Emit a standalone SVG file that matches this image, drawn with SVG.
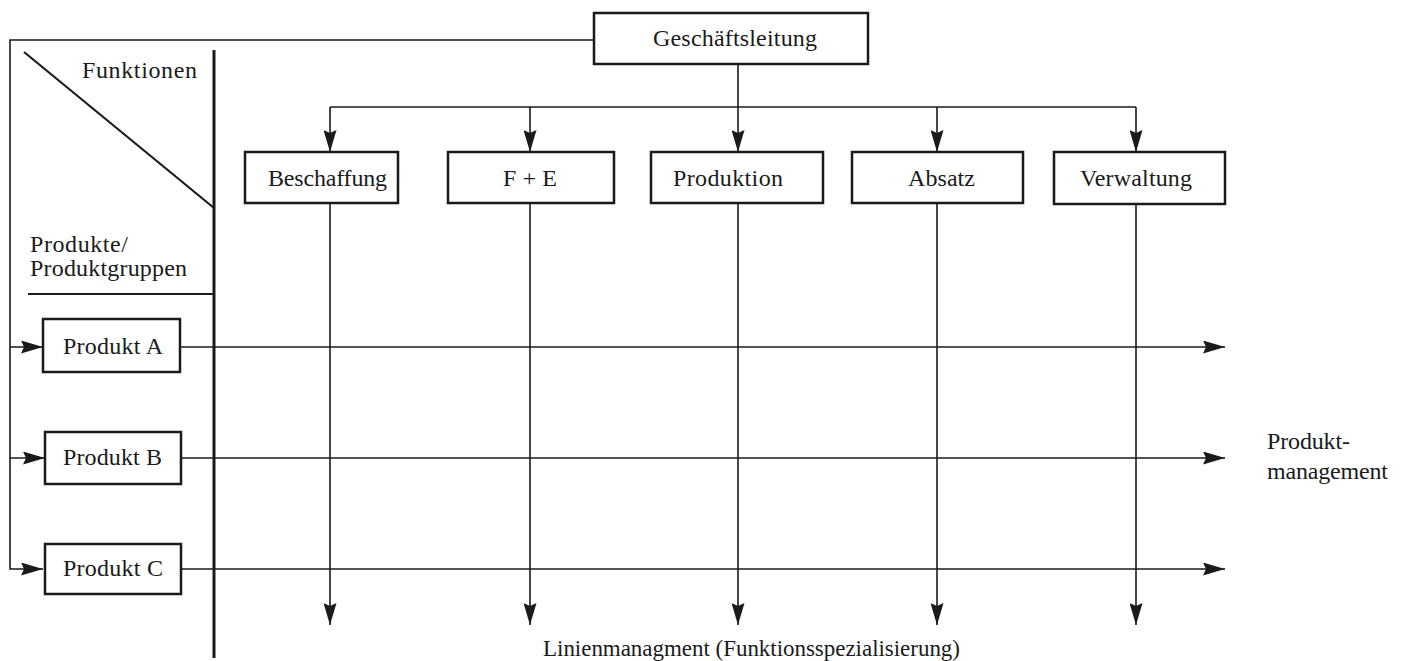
<svg xmlns="http://www.w3.org/2000/svg" width="1405" height="661" viewBox="0 0 1405 661">
<style>
.box{fill:#fff;stroke:#1a1a1a;stroke-width:2.5}
.ln{fill:none;stroke:#1a1a1a;stroke-width:1.6}
.thick{fill:none;stroke:#1a1a1a;stroke-width:3}
text{font-family:"Liberation Serif","Times New Roman",serif;font-size:24px;fill:#1a1a1a}
</style>
<defs>
<marker id="ah" viewBox="0 0 22 13" refX="22" refY="6.5" markerWidth="22" markerHeight="13" markerUnits="userSpaceOnUse" orient="auto">
<path d="M0,0 L22,6.5 L0,13 L3,6.5 Z" fill="#1a1a1a"/>
</marker>
</defs>
<rect width="1405" height="661" fill="#fff"/>
<g id="matrix-frame">
<line class="thick" x1="214" y1="50" x2="214" y2="658"/>
<line class="ln" x1="24" y1="52" x2="214" y2="208" style="stroke-width:2.2"/>
<line class="ln" x1="28" y1="294" x2="214" y2="294" style="stroke-width:2.2"/>
<text x="82" y="78" textLength="115" lengthAdjust="spacing">Funktionen</text>
<text x="30" y="252" textLength="98" lengthAdjust="spacing">Produkte/</text>
<text x="30" y="276" textLength="157" lengthAdjust="spacing">Produktgruppen</text>
</g>
<g id="connectors">
<polyline class="ln" points="594,40 10,40 10,569 43,569" marker-end="url(#ah)"/>
<line class="ln" x1="10" y1="347" x2="43" y2="347" marker-end="url(#ah)"/>
<line class="ln" x1="10" y1="458" x2="45" y2="458" marker-end="url(#ah)"/>
<line class="ln" x1="738" y1="64" x2="738" y2="152" marker-end="url(#ah)"/>
<line class="ln" x1="330" y1="107" x2="1136" y2="107"/>
<line class="ln" x1="330" y1="107" x2="330" y2="152" marker-end="url(#ah)"/>
<line class="ln" x1="530" y1="107" x2="530" y2="152" marker-end="url(#ah)"/>
<line class="ln" x1="937" y1="107" x2="937" y2="152" marker-end="url(#ah)"/>
<line class="ln" x1="1136" y1="107" x2="1136" y2="152" marker-end="url(#ah)"/>
<line class="ln" x1="330" y1="203" x2="330" y2="625" marker-end="url(#ah)"/>
<line class="ln" x1="530" y1="203" x2="530" y2="625" marker-end="url(#ah)"/>
<line class="ln" x1="738" y1="203" x2="738" y2="625" marker-end="url(#ah)"/>
<line class="ln" x1="937" y1="203" x2="937" y2="625" marker-end="url(#ah)"/>
<line class="ln" x1="1136" y1="204" x2="1136" y2="625" marker-end="url(#ah)"/>
<line class="ln" x1="181" y1="347" x2="1225" y2="347" marker-end="url(#ah)"/>
<line class="ln" x1="181" y1="458" x2="1225" y2="458" marker-end="url(#ah)"/>
<line class="ln" x1="181" y1="569" x2="1225" y2="569" marker-end="url(#ah)"/>
</g>
<g id="geschaeftsleitung"><rect class="box" x="594" y="13" width="274" height="51"/><text x="653" y="46" textLength="164" lengthAdjust="spacing">Geschäftsleitung</text></g>
<g id="beschaffung"><rect class="box" x="245" y="152" width="153" height="51"/><text x="268" y="186" textLength="119" lengthAdjust="spacing">Beschaffung</text></g>
<g id="fe"><rect class="box" x="448" y="152" width="166" height="51"/><text x="503" y="186" textLength="54" lengthAdjust="spacing">F + E</text></g>
<g id="produktion"><rect class="box" x="651" y="152" width="172" height="51"/><text x="673" y="186" textLength="110" lengthAdjust="spacing">Produktion</text></g>
<g id="absatz"><rect class="box" x="852" y="152" width="171" height="51"/><text x="908" y="186" textLength="67" lengthAdjust="spacing">Absatz</text></g>
<g id="verwaltung"><rect class="box" x="1054" y="152" width="171" height="52"/><text x="1080" y="186" textLength="112" lengthAdjust="spacing">Verwaltung</text></g>
<g id="produkt-a"><rect class="box" x="43" y="319" width="137" height="53"/><text x="63" y="354" textLength="100" lengthAdjust="spacing">Produkt A</text></g>
<g id="produkt-b"><rect class="box" x="45" y="432" width="136" height="52"/><text x="63" y="465" textLength="99" lengthAdjust="spacing">Produkt B</text></g>
<g id="produkt-c"><rect class="box" x="45" y="544" width="136" height="50"/><text x="63" y="576" textLength="100" lengthAdjust="spacing">Produkt C</text></g>
<g id="labels">
<text x="1267" y="449" textLength="83" lengthAdjust="spacing">Produkt-</text>
<text x="1267" y="479" textLength="121" lengthAdjust="spacing">management</text>
<text x="543" y="656" textLength="417" lengthAdjust="spacing" style="font-size:23px">Linienmanagment (Funktionsspezialisierung)</text>
</g>
</svg>
